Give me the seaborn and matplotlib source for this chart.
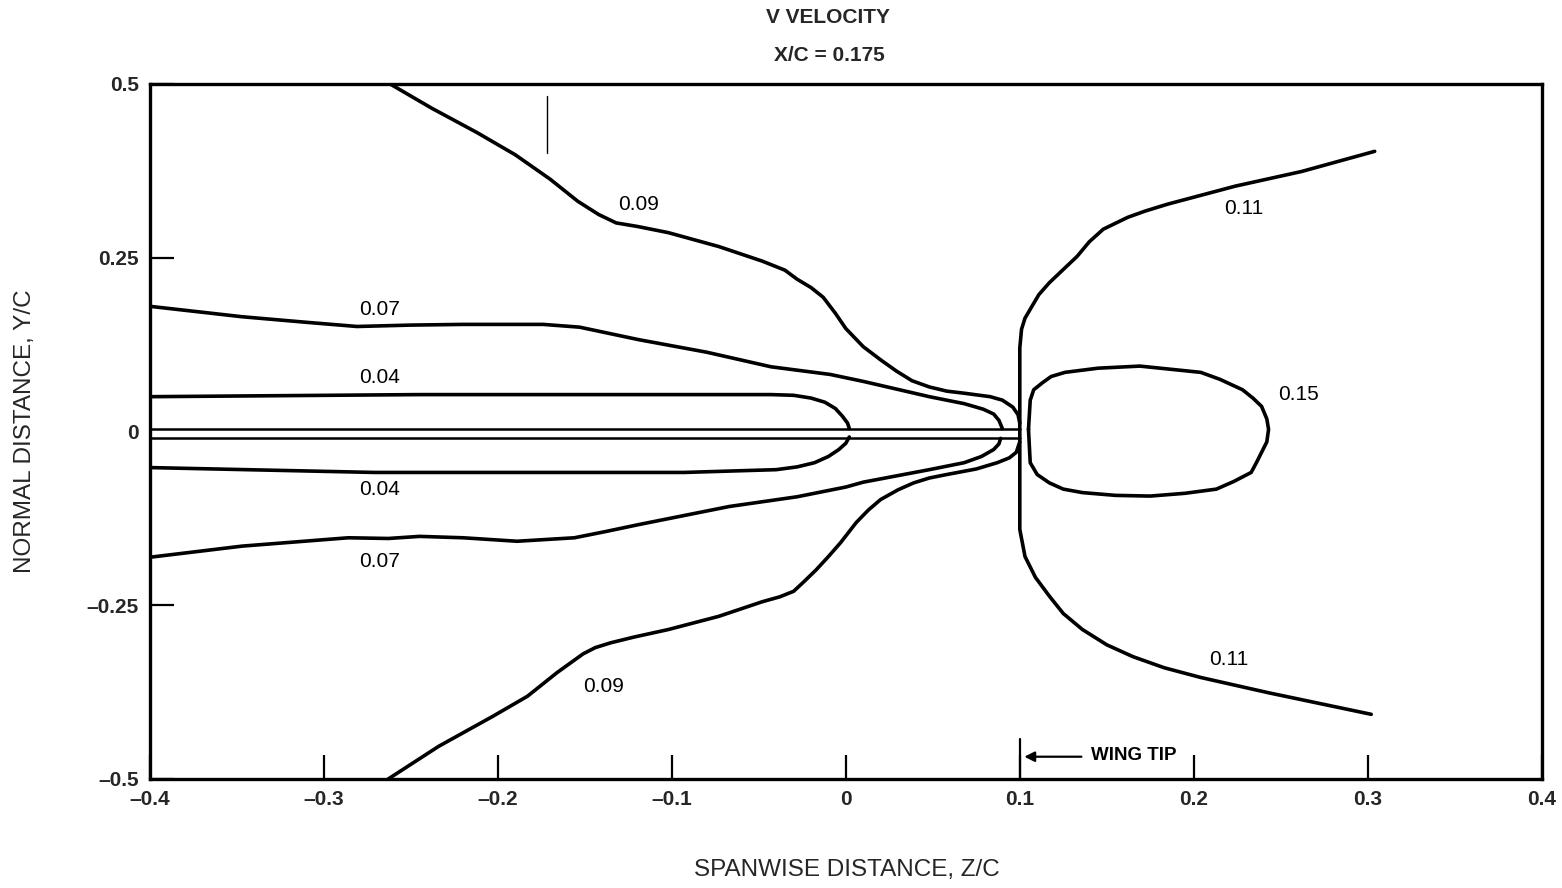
import matplotlib
matplotlib.use("Agg")
import matplotlib.pyplot as plt
import seaborn as sns
import pandas as pd

# Contour lines of V velocity at X/C = 0.175, as (Z/C, Y/C) point lists
c009_upper_z = [-0.262, -0.238, -0.212, -0.190, -0.170, -0.154, -0.142, -0.132, -0.120,
                -0.102, -0.073, -0.048, -0.035, -0.028, -0.020, -0.013, -0.006, 0.000,
                0.010, 0.020, 0.029, 0.038, 0.048, 0.058, 0.068, 0.083, 0.090, 0.096,
                0.099, 0.100]
c009_upper_y = [0.500, 0.465, 0.430, 0.398, 0.363, 0.331, 0.312, 0.300, 0.295,
                0.286, 0.266, 0.245, 0.232, 0.219, 0.207, 0.193, 0.170, 0.148,
                0.122, 0.103, 0.087, 0.073, 0.064, 0.058, 0.055, 0.050, 0.045, 0.035,
                0.024, 0.012]

c007_upper_z = [-0.400, -0.347, -0.310, -0.281, -0.250, -0.220, -0.174, -0.153, -0.136,
                -0.119, -0.080, -0.043, -0.009, 0.010, 0.029, 0.048, 0.068, 0.079,
                0.085, 0.088, 0.090]
c007_upper_y = [0.180, 0.165, 0.157, 0.151, 0.153, 0.154, 0.154, 0.150, 0.141,
                0.132, 0.114, 0.093, 0.082, 0.072, 0.061, 0.050, 0.040, 0.032,
                0.025, 0.016, 0.004]

c004_upper_z = [-0.400, -0.245, -0.043, -0.030, -0.020, -0.012, -0.006, -0.002, 0.001, 0.002]
c004_upper_y = [0.050, 0.053, 0.053, 0.052, 0.048, 0.042, 0.033, 0.022, 0.012, 0.004]

c004_lower_z = [-0.400, -0.271, -0.093, -0.040, -0.028, -0.018, -0.010, -0.004, 0.000, 0.002]
c004_lower_y = [-0.052, -0.059, -0.059, -0.055, -0.051, -0.045, -0.036, -0.026, -0.017, -0.008]

c007_lower_z = [-0.400, -0.347, -0.286, -0.263, -0.245, -0.220, -0.189, -0.156, -0.138,
                -0.119, -0.067, -0.028, 0.000, 0.010, 0.048, 0.068, 0.078, 0.085,
                0.088, 0.089]
c007_lower_y = [-0.181, -0.165, -0.153, -0.154, -0.151, -0.153, -0.158, -0.153, -0.144,
                -0.134, -0.108, -0.094, -0.080, -0.073, -0.055, -0.045, -0.036, -0.026,
                -0.018, -0.010]

c009_lower_z = [-0.263, -0.234, -0.203, -0.183, -0.166, -0.151, -0.144, -0.135, -0.122,
                -0.102, -0.073, -0.048, -0.038, -0.030, -0.024, -0.017, -0.010, -0.003,
                0.006, 0.013, 0.020, 0.030, 0.039, 0.048, 0.058, 0.075, 0.087, 0.094,
                0.098, 0.100]
c009_lower_y = [-0.500, -0.453, -0.410, -0.381, -0.347, -0.320, -0.311, -0.304, -0.296,
                -0.285, -0.266, -0.245, -0.238, -0.230, -0.216, -0.199, -0.180, -0.160,
                -0.131, -0.113, -0.098, -0.084, -0.074, -0.067, -0.062, -0.054, -0.045,
                -0.038, -0.030, -0.015]

c011_z = [0.304, 0.262, 0.224, 0.185, 0.172, 0.162, 0.148, 0.140, 0.133, 0.125, 0.117,
          0.111, 0.107, 0.103, 0.101, 0.100, 0.100, 0.100, 0.100, 0.103, 0.109, 0.117,
          0.125, 0.136, 0.150, 0.165, 0.183, 0.204, 0.243, 0.302]
c011_y = [0.403, 0.374, 0.353, 0.327, 0.317, 0.308, 0.291, 0.273, 0.252, 0.233, 0.214,
          0.197, 0.180, 0.163, 0.147, 0.120, 0.000, -0.120, -0.141, -0.180, -0.210, -0.237,
          -0.262, -0.285, -0.307, -0.324, -0.340, -0.354, -0.376, -0.407]

c015_z = [0.105, 0.106, 0.108, 0.113, 0.118, 0.126, 0.145, 0.169, 0.204, 0.215, 0.228,
          0.234, 0.239, 0.242, 0.243, 0.242, 0.239, 0.236, 0.233, 0.223, 0.213, 0.195,
          0.175, 0.155, 0.136, 0.125, 0.117, 0.110, 0.106, 0.105]
c015_y = [0.003, 0.045, 0.060, 0.070, 0.079, 0.085, 0.091, 0.094, 0.085, 0.075, 0.060,
          0.048, 0.036, 0.018, 0.003, -0.015, -0.030, -0.045, -0.059, -0.072, -0.083, -0.089,
          -0.093, -0.092, -0.088, -0.083, -0.074, -0.062, -0.045, 0.003]

# Wing surfaces (upper / lower) from the left edge to the tip
wing_z = [-0.400, 0.100]
wing_upper_y = [0.004, 0.004]
wing_lower_y = [-0.009, -0.009]

# Contour label texts and their anchor positions
label_texts = ["0.09", "0.07", "0.04", "0.04", "0.07", "0.09", "0.11", "0.15", "0.11"]
label_z = [-0.119, -0.268, -0.268, -0.268, -0.268, -0.139, 0.229, 0.260, 0.220]
label_y = [0.327, 0.176, 0.078, -0.083, -0.187, -0.367, 0.321, 0.053, -0.328]

x_ticks = [-0.4, -0.3, -0.2, -0.1, 0, 0.1, 0.2, 0.3, 0.4]
x_ticklabels = ["\u20130.4", "\u20130.3", "\u20130.2", "\u20130.1", "0", "0.1", "0.2", "0.3", "0.4"]
y_ticks = [-0.5, -0.25, 0, 0.25, 0.5]
y_ticklabels = ["\u20130.5", "\u20130.25", "0", "0.25", "0.5"]

sns.set_theme(style="white")
plt.rcParams["font.family"] = ["Liberation Sans", "DejaVu Sans"]

fig = plt.figure(figsize=(15.62, 8.88), dpi=100)
ax = fig.add_axes([0.096, 0.1228, 0.891, 0.7827])

contours = [
    (c009_upper_z, c009_upper_y), (c007_upper_z, c007_upper_y),
    (c004_upper_z, c004_upper_y), (c004_lower_z, c004_lower_y),
    (c007_lower_z, c007_lower_y), (c009_lower_z, c009_lower_y),
    (c011_z, c011_y), (c015_z, c015_y),
]
for zs, ys in contours:
    df = pd.DataFrame({"z": zs, "y": ys})
    sns.lineplot(data=df, x="z", y="y", sort=False, estimator=None,
                 color="black", lw=2.6, ax=ax)
for line in ax.lines:
    line.set_solid_joinstyle("round")
    line.set_solid_capstyle("round")

for wy in (wing_upper_y, wing_lower_y):
    sns.lineplot(x=wing_z, y=wy, sort=False, estimator=None,
                 color="black", lw=1.8, ax=ax)

for t, zx, yy in zip(label_texts, label_z, label_y):
    ax.text(zx, yy, t, ha="center", va="center", fontsize=15, color="black")

# Wing-tip marker on the span axis
ax.plot([0.1, 0.1], [-0.5, -0.443], color="black", lw=1.6)
ax.annotate("", xy=(0.101, -0.468), xytext=(0.137, -0.468),
            arrowprops=dict(arrowstyle="-|>", color="black", lw=1.6,
                            mutation_scale=15))
ax.text(0.141, -0.466, "WING TIP", ha="left", va="center", fontsize=13.5,
        fontweight="bold", color="black")
ax.plot([-0.172, -0.172], [0.482, 0.400], color="black", lw=1.0)

ax.set_xlim(-0.4, 0.4)
ax.set_ylim(-0.5, 0.5)
ax.set_xticks(x_ticks)
ax.set_xticklabels(x_ticklabels)
ax.set_yticks(y_ticks)
ax.set_yticklabels(y_ticklabels)
ax.tick_params(axis="both", direction="in", length=17, width=1.6, color="black",
               labelsize=15, pad=8, bottom=True, left=True)
ax.yaxis.get_major_ticks()[2].tick1line.set_visible(False)
for lab in ax.get_xticklabels() + ax.get_yticklabels():
    lab.set_fontweight("bold")
ax.set_xlabel("")
ax.set_ylabel("")
for sp in ax.spines.values():
    sp.set_color("black")
    sp.set_linewidth(2.4)
ax.grid(False)

fig.text(0.530, 0.980, "V VELOCITY", ha="center", va="center", fontsize=15,
         fontweight="bold")
fig.text(0.531, 0.937, "X/C = 0.175", ha="center", va="center", fontsize=15,
         fontweight="bold")
fig.text(0.542, 0.020, "SPANWISE DISTANCE, Z/C", ha="center", va="center", fontsize=17.5)
fig.text(0.016, 0.514, "NORMAL DISTANCE, Y/C", ha="center", va="center", fontsize=17.5,
         rotation=90)

fig.savefig("out.png", dpi=100, facecolor="white")
